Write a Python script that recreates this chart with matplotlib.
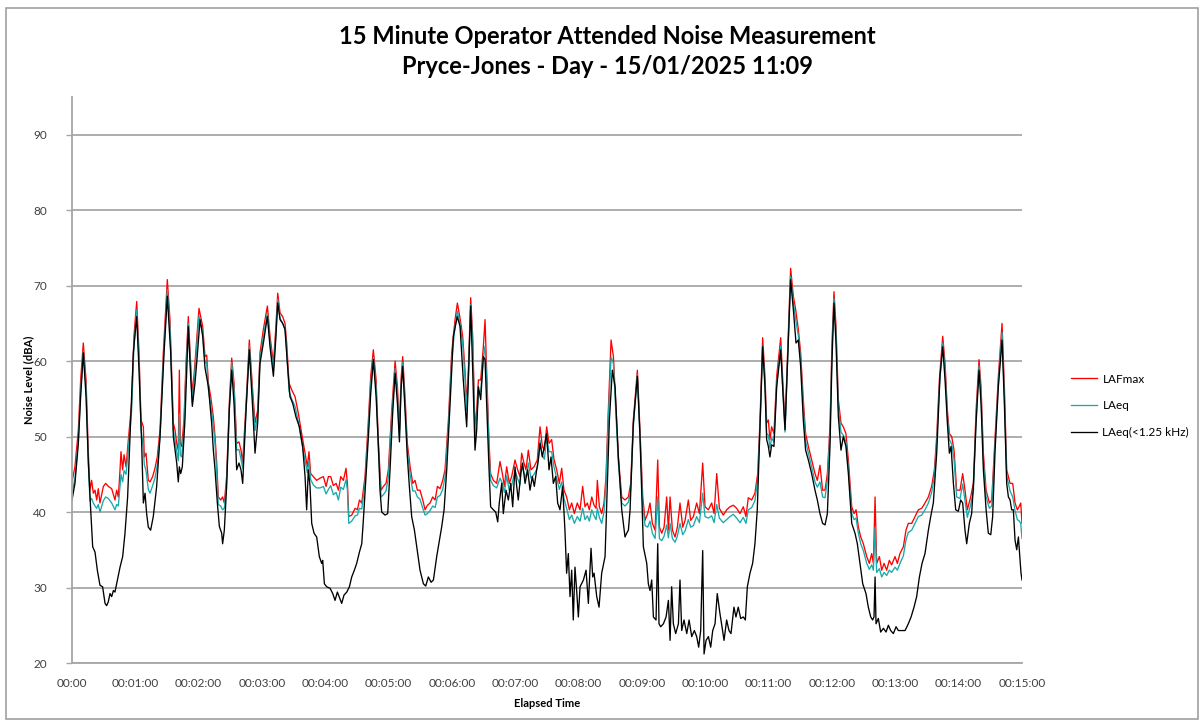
import numpy as np
import matplotlib
matplotlib.use('Agg')
import matplotlib.pyplot as plt
from matplotlib.patches import Rectangle

plt.rcParams['font.family'] = ['Lato', 'DejaVu Sans']

# elapsed seconds shared by LAFmax and LAeq
t_a = [0, 2.8, 6, 8.2, 10.7, 13.3, 15.5, 17, 18.6, 20.2, 21.8, 23.4, 24.9, 26.5, 29.7, 31.9, 34.4, 37.6, 40.7, 42.3,
       43.9, 45.5, 46.4, 48, 49.3, 51.2, 53.4, 56.5, 58.7, 61.3, 63.5, 65.4, 67.6, 68.5, 70.1, 72.3, 73.9, 76.4, 78.6, 80.8,
       83.4, 86.5, 90.3, 92.8, 96, 97.6, 99.2, 100.7, 101.7, 102.6, 103.9, 106.1, 108, 110.2, 112.4, 114, 116.5, 120.3, 123.8, 126,
       127.6, 129.2, 131.4, 133.9, 135.5, 137.1, 138.6, 140.9, 142.7, 144.3, 146.5, 149, 151.3, 153.5, 156, 158.2, 160.1, 161.7, 164.9, 168,
       170.9, 173.4, 175.9, 178.1, 181.3, 185.1, 187.6, 190.8, 193, 194.9, 197.1, 199.6, 201.8, 203.4, 205.6, 208.1, 211.3, 214.4, 217.6, 220.8,
       223, 224.5, 226.1, 228.6, 231.8, 235, 238.2, 240.7, 242.9, 245.1, 247.6, 250.2, 252.4, 254.6, 257.1, 259.6, 260.9, 262.2, 265, 268.2,
       270.4, 272.3, 274.5, 277.6, 280.8, 283, 285.5, 288.1, 290.3, 292.8, 295, 297.5, 299.7, 302.9, 306.1, 308.3, 310.2, 311.7, 313.3, 315.5,
       317.7, 320.3, 322.8, 325, 327.2, 329.7, 332.3, 334.5, 336.7, 339.2, 341.7, 344, 346.2, 348.7, 351.2, 353.4, 356.6, 359.7, 362.9, 365.1,
       367.6, 370.1, 372.3, 373.9, 375.5, 377.7, 379.6, 381.8, 383.4, 385, 387.2, 389.7, 391.3, 392.8, 395.1, 396.6, 399.2, 402.3, 405.5, 407.7,
       409.6, 411.8, 414.3, 416.5, 419.7, 422.2, 424.4, 426, 428.2, 430.1, 432.3, 434.8, 437.7, 440.8, 443.4, 445.6, 447.5, 449.7, 451.9, 454.4,
       456.6, 459.2, 461.7, 463.9, 466.1, 468.6, 471.2, 473.4, 475.9, 478.7, 481.3, 483.8, 486, 488.2, 490.1, 492.4, 494.6, 496.5, 497.7, 499.6,
       501.8, 504, 505.9, 508.1, 510.7, 512.9, 515.1, 517.6, 520.8, 523.9, 527.1, 529.3, 531.8, 535.6, 538.1, 540.7, 542.9, 545.4, 547.6, 549.8,
       552.4, 554.9, 556.5, 558.7, 560.9, 563.4, 565, 566.6, 568.8, 571.3, 573.5, 576, 578.6, 580.8, 583.9, 586.1, 588.7, 591.8, 594.4, 597.5,
       599.7, 602.9, 606, 608.3, 610.8, 613.3, 617, 620.2, 623.3, 626.5, 629.7, 632.8, 636, 638.5, 640.7, 643.9, 647, 649.6, 651.8, 654.3,
       656.5, 658.1, 659.7, 661.2, 662.8, 665, 667.6, 671.4, 673.2, 675.5, 677.7, 680.8, 683.4, 685.6, 688.1, 690.3, 692.8, 695, 697.6, 700.7,
       703.9, 706.1, 708.6, 711.1, 713.4, 715.6, 718.1, 720, 721.9, 723.8, 726, 728.5, 730.7, 733.2, 735.5, 738.7, 740.9, 742.8, 745, 747.2,
       749.7, 752.9, 755.4, 757.6, 759.2, 760.8, 762.3, 764.9, 767.1, 769.3, 771.8, 774.3, 776.5, 779.7, 781.9, 784.4, 787.6, 790.1, 792.3, 795.5,
       798.7, 801.8, 805, 808.1, 811.3, 814.4, 817, 819.2, 821.7, 824.9, 827.1, 829.3, 831.2, 833.4, 835.6, 838.1, 841.3, 843.8, 846, 848.2,
       851.4, 854, 856.5, 859.3, 861.2, 863.4, 866, 869.1, 871.3, 874.5, 877.6, 881.1, 883.3, 885.5, 888.7, 891.2, 893.4, 895.6, 897.5, 898.8,
       900]

lafmax = [44, 46, 50.9, 57.5, 62.4, 57.5, 47.8, 42.9, 44.2, 42.5, 42.9, 41.6, 43.1, 41.2, 43.4, 43.8, 43.4, 43.1, 41.6, 42.9,
          42, 45.6, 48, 45.6, 47.6, 46, 49.6, 54.4, 63.3, 67.9, 61.1, 52.2, 51.3, 47.3, 47.8, 44.2, 44, 44.7, 45.8, 47.3,
          50.9, 61.1, 70.8, 65.5, 51.8, 50.9, 49.1, 48.2, 58.8, 49.1, 48.7, 52.2, 59.7, 65.9, 59.7, 55.5, 59.7, 67, 64.6, 60.6,
          60.8, 57.1, 55.3, 52.6, 50, 46.5, 42, 41.6, 42, 41.2, 44.7, 54.4, 60.4, 57.1, 49.1, 49.3, 48.2, 46.5, 54.4, 62.8,
          56.6, 51.8, 53.5, 61.1, 64.2, 67.3, 63.3, 59.7, 64.2, 69, 66.4, 65.9, 65, 62.4, 57.1, 56.2, 55.3, 53.1, 50.4, 47.8,
          46, 48, 45.1, 44.7, 44.2, 44.5, 44.7, 43.4, 44.7, 44.7, 43.5, 43.8, 42.9, 44.7, 44.2, 45.8, 43.8, 39.4, 39.6, 40.5,
          40.3, 41.6, 41.2, 44.7, 52.2, 58, 61.5, 57.5, 49.1, 42.9, 43.4, 43.8, 45.6, 53.5, 60, 56.6, 50.9, 57.5, 60.6, 55.3,
          49.1, 46, 43.8, 44.2, 42.9, 42.9, 41.6, 40.3, 40.9, 41.2, 42, 41.6, 43.4, 43.1, 44.2, 45.6, 52.2, 61.1, 65.5, 67.7,
          65.7, 63.3, 58.8, 54.4, 58.8, 68.4, 63.3, 50.9, 53.5, 57.5, 57.5, 61.9, 65.5, 58.8, 49.1, 45.1, 44.2, 43.8, 46.7, 45.1,
          43.4, 46, 43.8, 44.7, 46.9, 45.6, 44.7, 47.8, 46.5, 45.6, 48.2, 45.6, 46, 46.9, 51.3, 48.7, 48.2, 51.3, 49.1, 49.6,
          47, 45.6, 43.8, 45.8, 42.9, 42, 40.3, 41.2, 39.8, 41.2, 40.3, 43.4, 40.7, 41.2, 40.3, 42, 40.9, 40.5, 44.2, 40.7,
          39.8, 41.2, 44.7, 53.5, 62.8, 60.6, 54.4, 47.3, 42, 41.6, 42, 43.8, 52.2, 58.8, 50.9, 42, 38.9, 39.8, 41.2, 38.5,
          37.6, 46.9, 38, 37.2, 38, 42, 37.6, 42, 37.6, 36.7, 38, 41.2, 38, 38.9, 41.6, 38.9, 39.4, 41.2, 39.8, 46.5,
          40.7, 40.3, 41.2, 39.8, 45.1, 40.5, 39.6, 40.3, 40.7, 40.9, 40.5, 39.8, 40.7, 39.4, 41.9, 41.6, 42.5, 45.1, 52.2, 63.1,
          58, 51.8, 52.2, 49.6, 51.3, 50.4, 58, 63.1, 58, 51.3, 60.2, 72.3, 68.6, 66.8, 64.2, 61.1, 54.9, 50.4, 48.7, 46.9,
          45.1, 44.2, 46.2, 42.9, 42.9, 45.1, 51.3, 62.4, 69.2, 64.6, 54.9, 51.8, 51.3, 50.4, 46.9, 40.7, 39.8, 40.3, 38, 36.7,
          35.8, 34.1, 33.2, 34.5, 33.2, 42, 33.2, 34.1, 32.3, 33.2, 32.3, 33.6, 33, 34.1, 33.2, 34.5, 35.4, 37.6, 38.5, 38.5,
          39.4, 40.3, 40.5, 41.2, 42, 43.4, 45.6, 50, 57.5, 63.3, 59.7, 53.5, 50.4, 50, 48.2, 42.9, 42.9, 45.1, 42.9, 40.3,
          42, 43.9, 53.5, 60.2, 56.6, 47.8, 42.9, 41.2, 41.6, 50, 58, 65, 56.6, 45.6, 43.8, 43.8, 41.2, 40.3, 40.8, 41.2,
          38.5]

laeq = [42.5, 44.5, 49.5, 56, 61.3, 56.5, 46.5, 41.5, 41.8, 41.2, 40.8, 40.5, 41, 40, 41.5, 42, 41.8, 41.2, 40.3, 41,
        40.8, 43.5, 45, 44, 45.5, 45, 48.5, 53.5, 62, 66.8, 60, 51, 48.5, 46.3, 45.5, 43, 42.5, 43.5, 44.5, 46.2,
        50, 60, 69.5, 64.5, 50.8, 49.5, 48, 46.8, 53, 47.5, 47.3, 51.2, 58.8, 65, 58.8, 54.5, 58.8, 66, 63.8, 59.8,
        59.8, 56.3, 54.3, 51.5, 49, 45.3, 41, 40.8, 40.3, 40.5, 44, 53.5, 59.8, 56.3, 48.2, 48.3, 47, 45.8, 53.6, 62,
        55.8, 50.8, 52.7, 60.3, 63.3, 66.4, 62.5, 58.8, 63.4, 68.2, 65.7, 65, 64.2, 61.6, 56, 55, 54, 52, 49.3, 46.8,
        45.2, 46.8, 44.3, 43.6, 43.2, 43.2, 43.4, 42.4, 43, 43.5, 42.3, 42.6, 41.6, 43.3, 43, 44.3, 43, 38.5, 38.8, 39.5,
        39.6, 40.5, 40.4, 43.8, 51.2, 57, 60.5, 56.5, 48, 42, 42.3, 42.8, 44.6, 52.5, 59, 55.5, 50, 56.5, 59.8, 54.3,
        48.2, 45, 42.8, 42.8, 42, 41.7, 40.5, 39.6, 39.8, 40.2, 40.8, 40.6, 42, 42.2, 43, 44.6, 51.3, 60.2, 64.6, 66.6,
        65, 62.3, 57.8, 53.5, 58, 67.5, 62.3, 50, 52.5, 55.5, 56, 60.5, 62, 57.5, 48, 44.2, 43.5, 43.2, 44.5, 43.8,
        42.6, 44.8, 42.8, 43.5, 45.5, 44.4, 43.6, 46, 45.2, 44.6, 46.5, 44.5, 45, 45.8, 49.5, 47.5, 47, 49.8, 48, 48,
        46, 44.5, 43, 44, 41.8, 40.5, 39, 39.6, 38.5, 39.4, 38.8, 40.5, 39, 39.5, 38.8, 40.3, 39.5, 39, 40.5, 39.3,
        38.5, 40, 43.8, 52.5, 60.5, 59.7, 53.5, 46.5, 41.2, 40.8, 41.3, 43, 51.3, 58.2, 50, 41, 38.2, 38, 38.8, 37.2,
        36.5, 42, 36.5, 36.2, 36.8, 38.3, 36.6, 38.5, 36.5, 36, 36.8, 38.5, 37, 37.5, 39, 38, 38.2, 39.4, 38.6, 42.5,
        39.4, 39.2, 39.5, 38.6, 41, 39.2, 38.6, 39, 39.4, 39.7, 39.2, 38.6, 39.3, 38.5, 40.3, 40.6, 41.5, 44.3, 51.3, 62,
        57.2, 50.4, 50.2, 48.5, 49.8, 49.3, 57, 62, 57, 50.6, 59.4, 71.2, 67.8, 65.5, 63.4, 60.2, 53.8, 49.4, 47.8, 46,
        44, 43.3, 44, 42, 41.9, 44.2, 50.5, 61.5, 68.3, 63.7, 54, 50.6, 50.2, 49.3, 45.8, 39.8, 39, 39.2, 37.2, 35.8,
        34.9, 33.2, 32.4, 33, 32.3, 38, 32, 32.5, 31.4, 32, 31.6, 32.3, 32, 32.7, 32.3, 33.2, 34.2, 36.3, 37.3, 37.6,
        38.5, 39.4, 39.6, 40.3, 41.2, 42.6, 44.8, 49.2, 56.6, 62.4, 58.8, 52.6, 49.6, 49, 47, 42, 41.8, 43.7, 41.5, 39.3,
        41, 42.8, 52.5, 59.4, 55.6, 46.8, 42, 40.5, 40.8, 49.2, 57.2, 63.8, 55.5, 44.8, 42.8, 42, 40.2, 39, 38.8, 38.5,
        36.5]

# elapsed seconds and LAeq below 1.25 kHz
t_b = [0, 2.8, 6, 8.2, 10.7, 13.3, 15.5, 17.7, 19.6, 21.8, 24, 26.5, 29, 31.3, 32.8, 34.4, 36, 37.6, 39.2, 40.7,
       43, 45.5, 48, 50.2, 52.7, 55.6, 58.1, 61.3, 63.5, 66, 67.6, 69.2, 70.7, 72.3, 74.5, 77, 80.2, 83.4, 87.2, 90.3,
       93.5, 96, 97.6, 99.2, 100.7, 101.7, 103, 104.5, 107, 110.2, 112.4, 114, 116.5, 118.1, 121.3, 123.8, 126, 129.2, 132.3, 133.9,
       135.5, 137.7, 139.6, 141.8, 142.7, 144.3, 146.5, 149, 151.3, 153.5, 156, 158.2, 160.1, 161.7, 164.9, 168, 170.9, 173.4, 175.9, 178.1,
       181.3, 185.1, 187.6, 190.8, 193, 194.9, 197.1, 199.6, 201.8, 204, 206.5, 209.1, 212.2, 215.4, 218.5, 220.8, 222.3, 223.9, 225.5, 227.1,
       229.3, 231.8, 234.3, 236.5, 237.5, 239.1, 241.3, 244.5, 247, 249.2, 251.4, 253.3, 255.5, 257.7, 260.3, 262.8, 265, 267.5, 269.7, 272.3,
       274.5, 276, 278.3, 280.8, 283, 285.5, 288.1, 290.3, 291.8, 293.4, 296.6, 299.1, 301.3, 303.8, 306.1, 308.3, 310.2, 311.7, 313.3, 315.5,
       317.7, 319.6, 321.8, 324.4, 326.6, 329.7, 332.9, 335.1, 337.6, 340.2, 342.4, 345.5, 348.1, 350.3, 352.5, 355, 358.2, 361.3, 365, 367.6,
       370.7, 373.9, 375.5, 377.7, 379.6, 381.8, 383.4, 385, 387.2, 389.7, 391.3, 392.8, 395.1, 396.6, 399.2, 401.4, 403.3, 404.8, 407.1, 408.6,
       411.2, 413.4, 415.6, 417.5, 419.7, 421.3, 422.8, 425.1, 426.9, 429.2, 431.7, 433.9, 436.1, 438, 440.2, 441.8, 443.4, 445.6, 447.5, 449.7,
       451.9, 453.8, 456, 458.2, 460.1, 462.3, 464.8, 467, 468.6, 470.2, 471.8, 473.4, 474.9, 476.5, 478.1, 479.7, 481.3, 484.5, 487, 489.2,
       491.7, 493.3, 494.6, 497.1, 499.3, 501.8, 505, 506.6, 509.1, 511.9, 514.5, 517.6, 520.8, 523.9, 525.5, 527.1, 528.7, 531.8, 535.6, 538.1,
       541.3, 544.5, 546, 547.6, 549.2, 550.8, 553.3, 554.9, 556.1, 557.7, 560.3, 562.8, 565, 566.6, 568.1, 569.7, 571.9, 574.5, 576, 577.6,
       579.8, 582.4, 584.6, 587.1, 589.6, 591.8, 593.7, 595.6, 597.5, 598.8, 600.7, 602.9, 605.1, 607, 609.2, 611.3, 613.9, 615.8, 617.7, 620.2,
       622.4, 624.3, 627.1, 629, 631.2, 633.5, 636, 637.9, 639.8, 642.3, 644.8, 647, 649.2, 651.8, 654.3, 656.5, 658.1, 659.7, 661.2, 662.8,
       665, 667.6, 671.4, 673.2, 675.5, 677.7, 680.8, 683.4, 685.9, 688.1, 690.3, 692.8, 695, 697.6, 700.7, 703.9, 706.1, 708.6, 711.1, 713.4,
       715.6, 718.1, 720, 721.9, 723.8, 726, 728.5, 730.7, 733.2, 735.5, 738.7, 741.8, 744, 746.5, 749.1, 752.2, 754.4, 756.7, 758.5, 759.8,
       760.8, 761.7, 763.9, 766.1, 768.7, 771.2, 773.4, 775.6, 778.1, 780.7, 782.9, 786, 789.2, 792.3, 794.9, 797.7, 800.2, 802.8, 805.3, 808.1,
       811.3, 813.5, 816, 819.2, 822.3, 824.9, 827.1, 829.3, 831.2, 832.8, 835, 837.2, 839.7, 841.9, 843.8, 846, 847.6, 850.1, 852.3, 853.9,
       856.5, 859.3, 861.2, 863.4, 866, 868.1, 870.4, 872.2, 874.5, 877.6, 881.1, 883.3, 885.5, 887.1, 888.7, 890.2, 891.8, 893.4, 895, 896.6,
       898.1, 899, 900]

laeq_low = [41.6, 43.8, 49.1, 55.3, 61.1, 55.3, 46.5, 40.3, 35.4, 34.7, 32.3, 30.3, 30.1, 27.9, 27.6, 28.1, 29.2, 28.8, 29.6, 29.4,
            31, 32.7, 34.1, 37.2, 42, 52.2, 61.1, 65.9, 58.8, 49.1, 41.2, 42.5, 39.8, 38, 37.6, 39.4, 43.4, 50, 61.1, 68.6,
            61.1, 50, 48.2, 46.5, 44, 46, 45.1, 46, 52.2, 64.6, 58, 54, 57.1, 59.7, 65.5, 63.3, 59.1, 56.6, 51.8, 48.2,
            45.6, 41.2, 38.1, 37.2, 35.8, 37.6, 43.4, 53.5, 58.8, 54.4, 45.6, 46.5, 45.6, 43.8, 53.5, 61.5, 54.4, 47.8, 51.8, 59.7,
            62.4, 65.9, 61.9, 58, 62.8, 67.7, 65.5, 65, 64.2, 59.7, 55.3, 54.4, 52.6, 51.3, 48.7, 44.7, 40.3, 45.6, 43.4, 38.5,
            37.2, 36.7, 34.1, 33.2, 33.6, 30.5, 30.1, 29.9, 29.2, 28.3, 29.4, 28.7, 27.9, 29, 29.4, 30.1, 31.4, 32.3, 33.2, 34.7,
            35.8, 38.9, 44.2, 50, 55.7, 60.2, 55.3, 48.7, 42.9, 40, 39.6, 39.8, 45.6, 53.1, 58.4, 54.4, 49.3, 56.2, 59.3, 53.5,
            47.3, 43.4, 39.4, 37.6, 35.4, 32.3, 30.5, 30.2, 31.4, 30.7, 31, 34.1, 36.3, 38.1, 40.3, 45.6, 54.4, 63.3, 65.9, 64.6,
            57.5, 51.3, 57.5, 67.3, 58.8, 48.2, 50.9, 56.6, 54.9, 60.6, 60.2, 54.4, 45.6, 40.7, 40.3, 40, 38.7, 41.2, 43.8, 39.8,
            42.9, 41.6, 43.8, 40.7, 46, 43.4, 41.6, 45.1, 46.5, 43.8, 45.6, 42.9, 44.7, 43.4, 45.6, 46.9, 49.1, 47.3, 48.7, 50.4,
            45.6, 47.3, 43.8, 44.7, 41.2, 40.3, 43.4, 37.6, 31.9, 34.5, 28.8, 32.3, 25.7, 32.7, 29.6, 26.1, 30.1, 31, 32.3, 27.9,
            35.2, 31.4, 31.9, 28.8, 27.4, 31.9, 34.1, 41.2, 52.2, 58.8, 56.6, 47.3, 40.3, 36.7, 37.2, 37.6, 40.3, 51.8, 58, 50,
            35.4, 33.2, 30.5, 29.6, 31, 26.1, 25.7, 35.8, 25.2, 24.8, 25.2, 26.1, 28.3, 23, 30.1, 25.2, 23.9, 25.2, 31, 24.3,
            25.7, 23.9, 25.7, 23.5, 24.3, 23.5, 22.1, 24.3, 34.9, 21.2, 23, 23.5, 22.1, 24.3, 25.2, 29.2, 26.5, 24.8, 23, 25.7,
            24.3, 23.9, 27.4, 26.1, 27.4, 25.9, 26.1, 25.7, 30.1, 31.9, 33.2, 35.8, 40.3, 51.3, 61.9, 56.6, 49.6, 48.7, 47.3, 48.9,
            48.7, 56.6, 61.5, 56.6, 50.9, 59.3, 70.8, 66.8, 62.4, 62.8, 59.3, 52.2, 48.2, 46.9, 45.1, 42.9, 41.6, 39.8, 38.5, 38.3,
            39.8, 48.7, 60.2, 67.7, 62.4, 52.7, 48.2, 50, 48.7, 45.1, 38.5, 37.2, 35.8, 33.2, 30.5, 29.2, 27.4, 26.1, 25.7, 26.1,
            31.4, 25.2, 25.9, 24.1, 24.6, 24.1, 25, 24.3, 23.9, 24.8, 24.3, 24.3, 24.3, 25.2, 26.1, 27.4, 28.8, 31.4, 33.2, 34.5,
            37.6, 39.4, 41.2, 47.8, 58, 61.9, 57.5, 51.8, 47.8, 48.7, 43.8, 40.3, 40.1, 41.6, 41.2, 37.6, 35.8, 38.5, 39.8, 43.4,
            51.8, 58.8, 54.4, 45.6, 40.3, 37.2, 37, 39.4, 48.2, 56.6, 62.8, 54.4, 43.8, 42, 41.6, 40.3, 40.3, 36.3, 35, 36.7,
            33.8, 32, 31]

series_names = ['LAFmax', 'LAeq', 'LAeq(<1.25 kHz)']
series_colors = ['#FF0000', '#1AA9AA', '#000000']

tick_secs = list(range(0, 901, 60))
tick_labels = ['00:00'] + ['00:%02d:00' % (s // 60) for s in tick_secs[1:]]

fig = plt.figure(figsize=(12.03, 7.22), dpi=100)
ax = fig.add_axes([72 / 1203, 1 - 663 / 722, 950 / 1203, 566 / 722])

ax.plot(t_a, lafmax, color=series_colors[0], lw=0.95, label=series_names[0])
ax.plot(t_a, laeq, color=series_colors[1], lw=0.95, label=series_names[1])
ax.plot(t_b, laeq_low, color=series_colors[2], lw=0.95, label=series_names[2])

ax.set_xlim(0, 900)
ax.set_ylim(20, 95)
ax.set_yticks(np.arange(20, 91, 10))
ax.set_xticks(tick_secs)
ax.set_xticklabels(tick_labels)
ax.tick_params(axis='both', labelsize=8.5, colors='#404040', length=4, width=1)
ax.tick_params(axis='x', length=0, pad=11)
ax.tick_params(axis='y', color='#A6A6A6', pad=14)
ax.grid(True, axis='y', color='#A0A0A0', lw=1.2)
ax.set_axisbelow(True)
for s in ['top', 'right']:
    ax.spines[s].set_visible(False)
for s in ['left', 'bottom']:
    ax.spines[s].set_color('#A6A6A6')
    ax.spines[s].set_linewidth(1.3)

ax.set_ylabel('Noise Level (dBA)', fontsize=8, fontweight='bold', labelpad=-1)
ax.set_xlabel('Elapsed Time', fontsize=8, fontweight='bold', labelpad=6)

fig.text(0.505, 1 - 37 / 722, '15 Minute Operator Attended Noise Measurement', ha='center', va='center',
         fontsize=17, fontweight='bold')
fig.text(0.505, 1 - 67 / 722, 'Pryce-Jones - Day - 15/01/2025 11:09', ha='center', va='center',
         fontsize=17, fontweight='bold')

ax.legend(loc='center left', bbox_to_anchor=(1060 / 1203, 1 - 406 / 722), bbox_transform=fig.transFigure,
          frameon=False, fontsize=8.5, handlelength=2.2, handletextpad=0.5, labelspacing=1.35)

fig.patches.append(Rectangle((6 / 1203, 3 / 722), 1192 / 1203, 711 / 722, transform=fig.transFigure,
                             fill=False, edgecolor='#A0A0A0', lw=1.2))

fig.savefig('out.png', dpi=100)
